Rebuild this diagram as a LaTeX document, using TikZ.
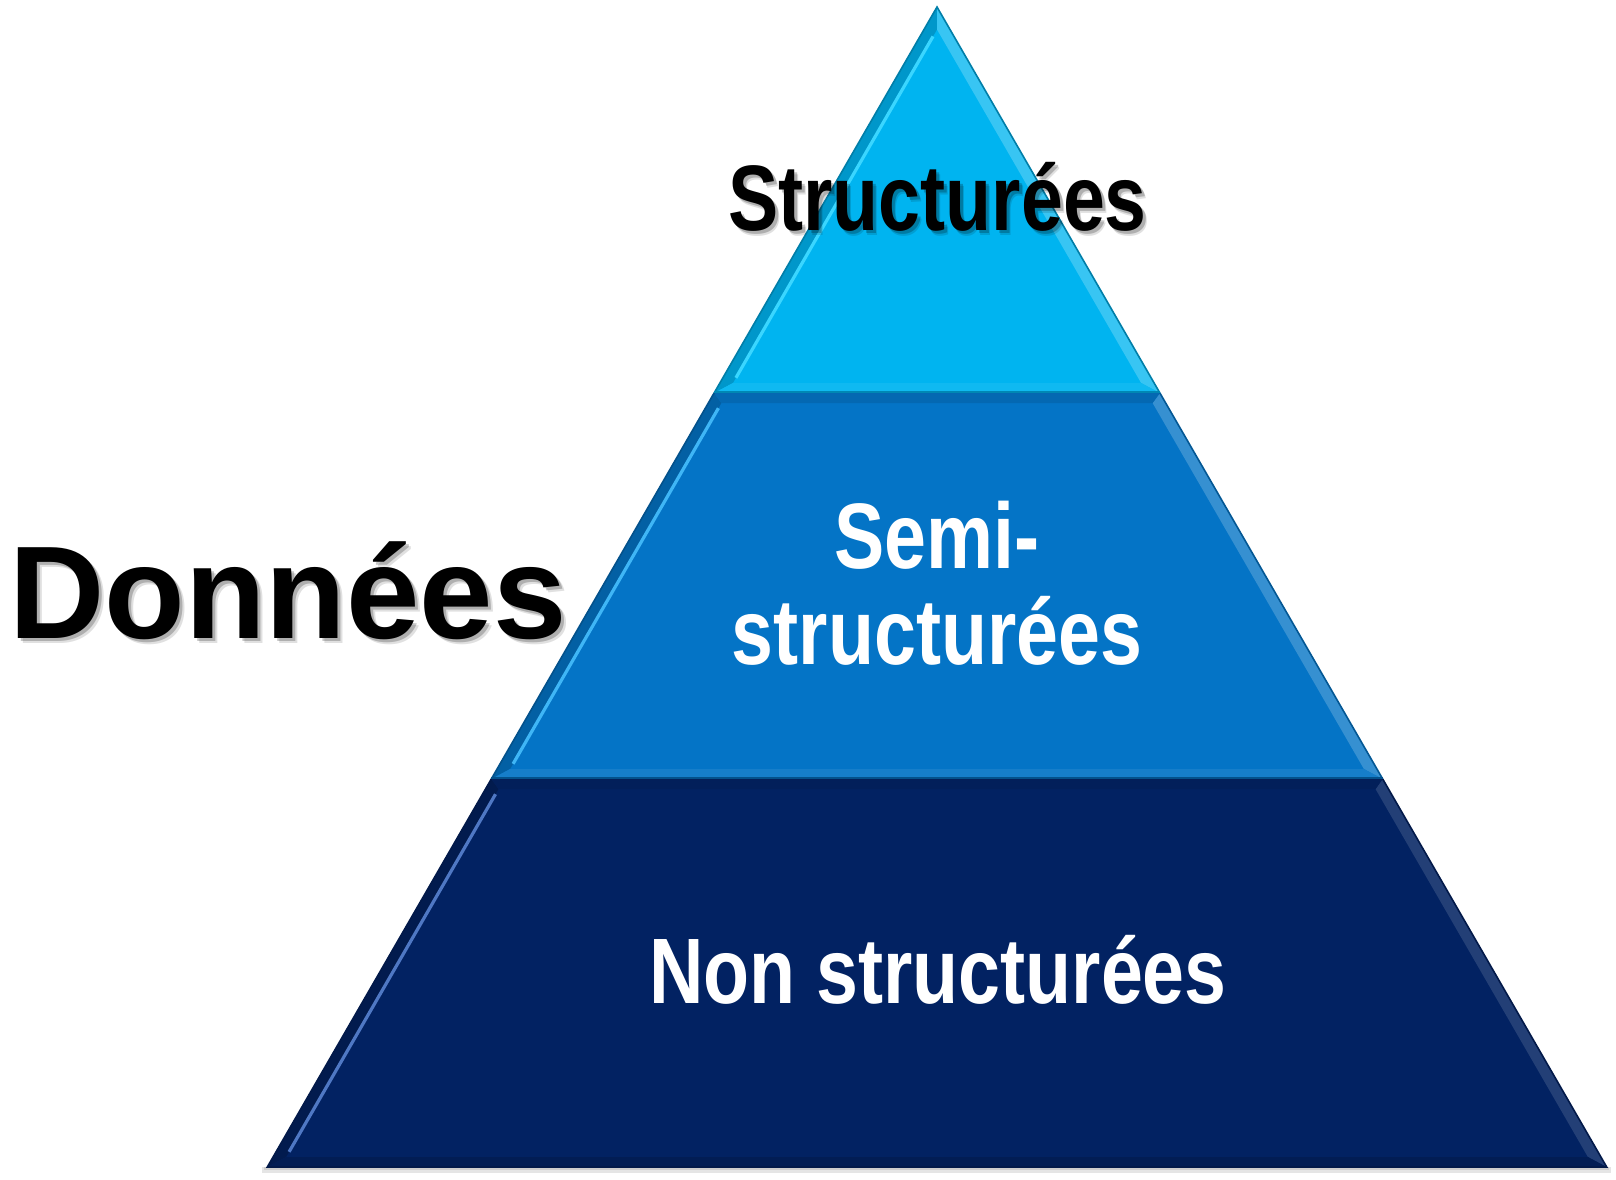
\documentclass[tikz,border=0pt]{standalone}
\usepackage{fontspec}
\setmainfont{Liberation Sans}
\newfontfamily\narrowsans[FakeStretch=0.81]{Liberation Sans}
\begin{document}
\begin{tikzpicture}[x=0.5pt,y=-0.5pt,
  lbl/.style={inner sep=0pt,anchor=base},
  narrowlbl/.style={lbl,font=\narrowsans\bfseries\fontsize{46.5}{48}\selectfont},
  shade1/.style={text=black,opacity=0.22},
  shade2/.style={text=black,opacity=0.12},
  rim/.style={line width=0.8pt,line join=miter}]
\definecolor{tierA}{HTML}{00B4F0}
\definecolor{tierB}{HTML}{0474C6}
\definecolor{tierC}{HTML}{022262}
\definecolor{hiA}{HTML}{3AD6FF}
\definecolor{hiB}{HTML}{3FB6F6}
\definecolor{hiC}{HTML}{4F78C4}
\useasboundingbox (0,0) rectangle (1616,1179);

% soft shadow under the base
\fill[black,opacity=0.10] (262,1167) rectangle (1611,1173);
\fill[black,opacity=0.10] (264,1167) rectangle (1609,1170);

% ---- top tier ----
\fill[tierA] (937,7) -- (714.1,393) -- (1159.9,393) -- cycle;
\fill[tierA!84!black] (937,7) -- (714.1,393) -- (732.9,383) -- (937,29.5) -- cycle;
\fill[tierA!78!white] (937,7) -- (1159.9,393) -- (1141.1,383) -- (937,29.5) -- cycle;
\fill[tierA!94!white] (714.1,393) -- (1159.9,393) -- (1141.1,383) -- (732.9,383) -- cycle;
\draw[hiA,line width=1.6pt,shorten <=4pt,shorten >=3pt] (937,29.5) -- (732.9,383);
\draw[tierA!70!black,rim] (714.1,393) -- (937,7) -- (1159.9,393);
\draw[tierA!75!black,line width=0.6pt] (714.1,392) -- (1159.9,392);

% ---- middle tier ----
\fill[tierB] (714.1,393) -- (1159.9,393) -- (1382.7,779) -- (491.3,779) -- cycle;
\fill[tierB!83!black] (714.1,393) -- (491.3,779) -- (510.1,769) -- (721.4,403) -- cycle;
\fill[tierB!80!white] (1159.9,393) -- (1382.7,779) -- (1363.9,769) -- (1152.6,403) -- cycle;
\fill[tierB!93!white] (491.3,779) -- (1382.7,779) -- (1363.9,769) -- (510.1,769) -- cycle;
\fill[tierB!90!black] (714.1,393) -- (1159.9,393) -- (1152.6,403) -- (721.4,403) -- cycle;
\draw[hiB,line width=1.6pt,shorten <=3pt,shorten >=3pt] (721.4,403) -- (510.1,769);
\draw[tierB!70!black,rim] (714.1,393) -- (491.3,779);
\draw[tierB!75!black,rim] (1159.9,393) -- (1382.7,779);
\draw[tierB!70!black,line width=0.6pt] (491.3,778) -- (1382.7,778);

% ---- bottom tier ----
\fill[tierC] (491.3,779) -- (1382.7,779) -- (1606.7,1167) -- (267.3,1167) -- cycle;
\fill[tierC!80!black] (491.3,779) -- (267.3,1167) -- (286.1,1157) -- (498.5,789) -- cycle;
\fill[tierC!87!white] (1382.7,779) -- (1606.7,1167) -- (1587.9,1157) -- (1375.5,789) -- cycle;
\fill[tierC!86!black] (267.3,1167) -- (1606.7,1167) -- (1587.9,1157) -- (286.1,1157) -- cycle;
\fill[tierC!92!black] (491.3,779) -- (1382.7,779) -- (1375.5,789) -- (498.5,789) -- cycle;
\draw[hiC,line width=1.6pt,shorten <=3pt,shorten >=3pt] (498.5,789) -- (286.1,1157);
\draw[tierC!75!black,rim] (491.3,779) -- (267.3,1167) -- (1606.7,1167) -- (1382.7,779);

% ---- labels ----
\node[narrowlbl,shade2] (structB) at (941.5,235) {Structurées};
\node[narrowlbl,shade1] (structA) at (940.5,233) {Structurées};
\node[narrowlbl,text=black] (struct) at (937.5,230) {Structurées};

\node[narrowlbl,text=white] (semiA) at (937,568) {Semi-};
\node[narrowlbl,text=white] (semiB) at (937,664) {structurées};

\node[narrowlbl,text=white] (nonstruct) at (938,1003) {Non structurées};

\node[lbl,font=\bfseries\fontsize{66}{70}\selectfont,shade2] (donneesB) at (293,643) {Données};
\node[lbl,font=\bfseries\fontsize{66}{70}\selectfont,shade1] (donneesA) at (291,641) {Données};
\node[lbl,font=\bfseries\fontsize{66}{70}\selectfont,text=black] (donnees) at (288,638) {Données};
\end{tikzpicture}
\end{document}
